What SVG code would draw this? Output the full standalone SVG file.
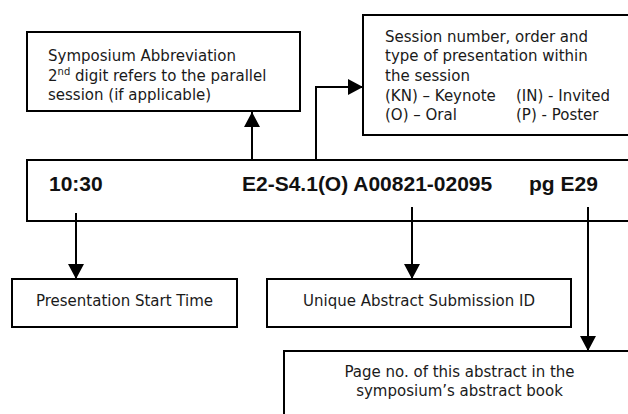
<svg xmlns="http://www.w3.org/2000/svg" width="628" height="414" viewBox="0 0 628 414">
<style>
.box{fill:#fff;stroke:#000;stroke-width:2}
.t{font-family:"DejaVu Sans","Liberation Sans",sans-serif;font-size:15px;fill:#1a1a1a}
.b{font-family:"Liberation Sans",Arial,sans-serif;font-size:21px;font-weight:bold;fill:#111}
.c{fill:none;stroke:#000;stroke-width:2}
</style>
<defs>
<marker id="ah" viewBox="0 0 15 16" refX="15" refY="8" markerWidth="15" markerHeight="16" markerUnits="userSpaceOnUse" orient="auto">
<path d="M0,0 L15,8 L0,16 Z" fill="#000"/>
</marker>
</defs>
<rect width="628" height="414" fill="#fff"/>

<g id="symposium">
<rect class="box" x="27" y="32" width="273" height="79"/>
<text class="t" x="48" y="61">Symposium Abbreviation</text>
<text class="t" x="48" y="80.5">2<tspan font-size="10" dy="-6">nd</tspan><tspan dy="6"> digit refers to the parallel</tspan></text>
<text class="t" x="48" y="100">session (if applicable)</text>
</g>

<g id="session">
<rect class="box" x="363" y="15" width="280" height="120"/>
<text class="t" x="385" y="41.5">Session number, order and</text>
<text class="t" x="385" y="61">type of presentation within</text>
<text class="t" x="385" y="81">the session</text>
<text class="t" x="385" y="100.5">(KN) – Keynote</text>
<text class="t" x="516" y="100.5">(IN) - Invited</text>
<text class="t" x="385" y="120">(O) – Oral</text>
<text class="t" x="516" y="120">(P) - Poster</text>
</g>

<g id="main">
<rect class="box" x="27" y="160" width="620" height="61"/>
<text class="b" x="49" y="191">10:30</text>
<text class="b" x="242" y="191">E2-S4.1(O) A00821-02095</text>
<text class="b" x="529" y="191">pg E29</text>
</g>

<g id="start">
<rect class="box" x="12" y="279" width="225" height="48"/>
<text class="t" x="124.5" y="306" font-size="14" text-anchor="middle">Presentation Start Time</text>
</g>

<g id="unique">
<rect class="box" x="267" y="279" width="304" height="48"/>
<text class="t" x="419" y="306" text-anchor="middle">Unique Abstract Submission ID</text>
</g>

<g id="page">
<rect class="box" x="284" y="351" width="360" height="80"/>
<text class="t" x="459.5" y="377" text-anchor="middle">Page no. of this abstract in the</text>
<text class="t" x="459.5" y="396" text-anchor="middle">symposium’s abstract book</text>
</g>

<g id="connectors">
<path class="c" d="M252,160 V112" marker-end="url(#ah)"/>
<path class="c" d="M316,160 V87 H363" marker-end="url(#ah)"/>
<path class="c" d="M76,213 V279" marker-end="url(#ah)"/>
<path class="c" d="M412,207 V279" marker-end="url(#ah)"/>
<path class="c" d="M588,207 V351" marker-end="url(#ah)"/>
</g>
</svg>
